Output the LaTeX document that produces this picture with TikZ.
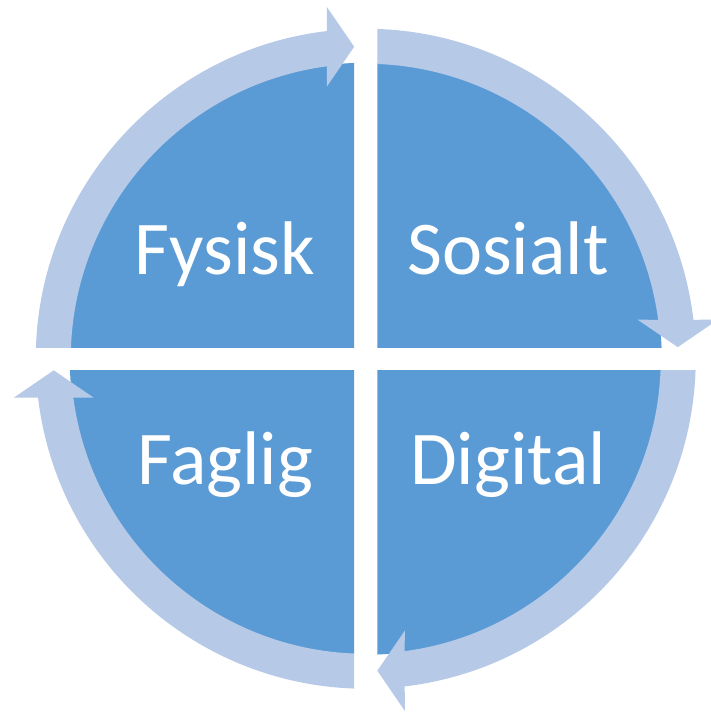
\documentclass[tikz,border=0pt]{standalone}
\usepackage{fontspec}
\setmainfont{Carlito}
\definecolor{piecol}{HTML}{5B9BD5}
\definecolor{bandcol}{HTML}{B6CAE8}
\begin{document}
\begin{tikzpicture}[x=1pt,y=1pt,
  piefill/.style={fill=piecol},
  cycarrow/.style={fill=bandcol},
  lbl/.style={text=white,font=\fontsize{76}{82}\selectfont,anchor=base,inner sep=0pt}]
\useasboundingbox (0,0) rectangle (711,715);
\fill[white] (0,0) rectangle (711,715);
\clip (0,0) rectangle (711,715);
\coordinate (C) at (365.75,356.25);
\def\g{11.6}
\foreach \k in {0,1,2,3} {
  \begin{scope}[shift={(C)}, rotate=-90*\k]
    \clip (-\g,\g) rectangle (-420,420);
    \fill[piefill] (0,0) circle[radius=296];
    \fill[cycarrow] (180:330) arc[start angle=180,end angle={90+asin(39/330)},radius=330]
      -- (-39,352) -- (-\g,312) -- (-39,272)
      -- ({90+asin(39/295)}:295) arc[start angle={90+asin(39/295)},end angle=180,radius=295] -- cycle;
  \end{scope}
}
\node[lbl] (fysisk) at (225,440.6) {Fysisk};
\node[lbl] (sosialt) at (508,440.6) {Sosialt};
\node[lbl] (faglig) at (225,230.6) {Faglig};
\node[lbl] (digital) at (508,230.6) {Digital};
\end{tikzpicture}
\end{document}
